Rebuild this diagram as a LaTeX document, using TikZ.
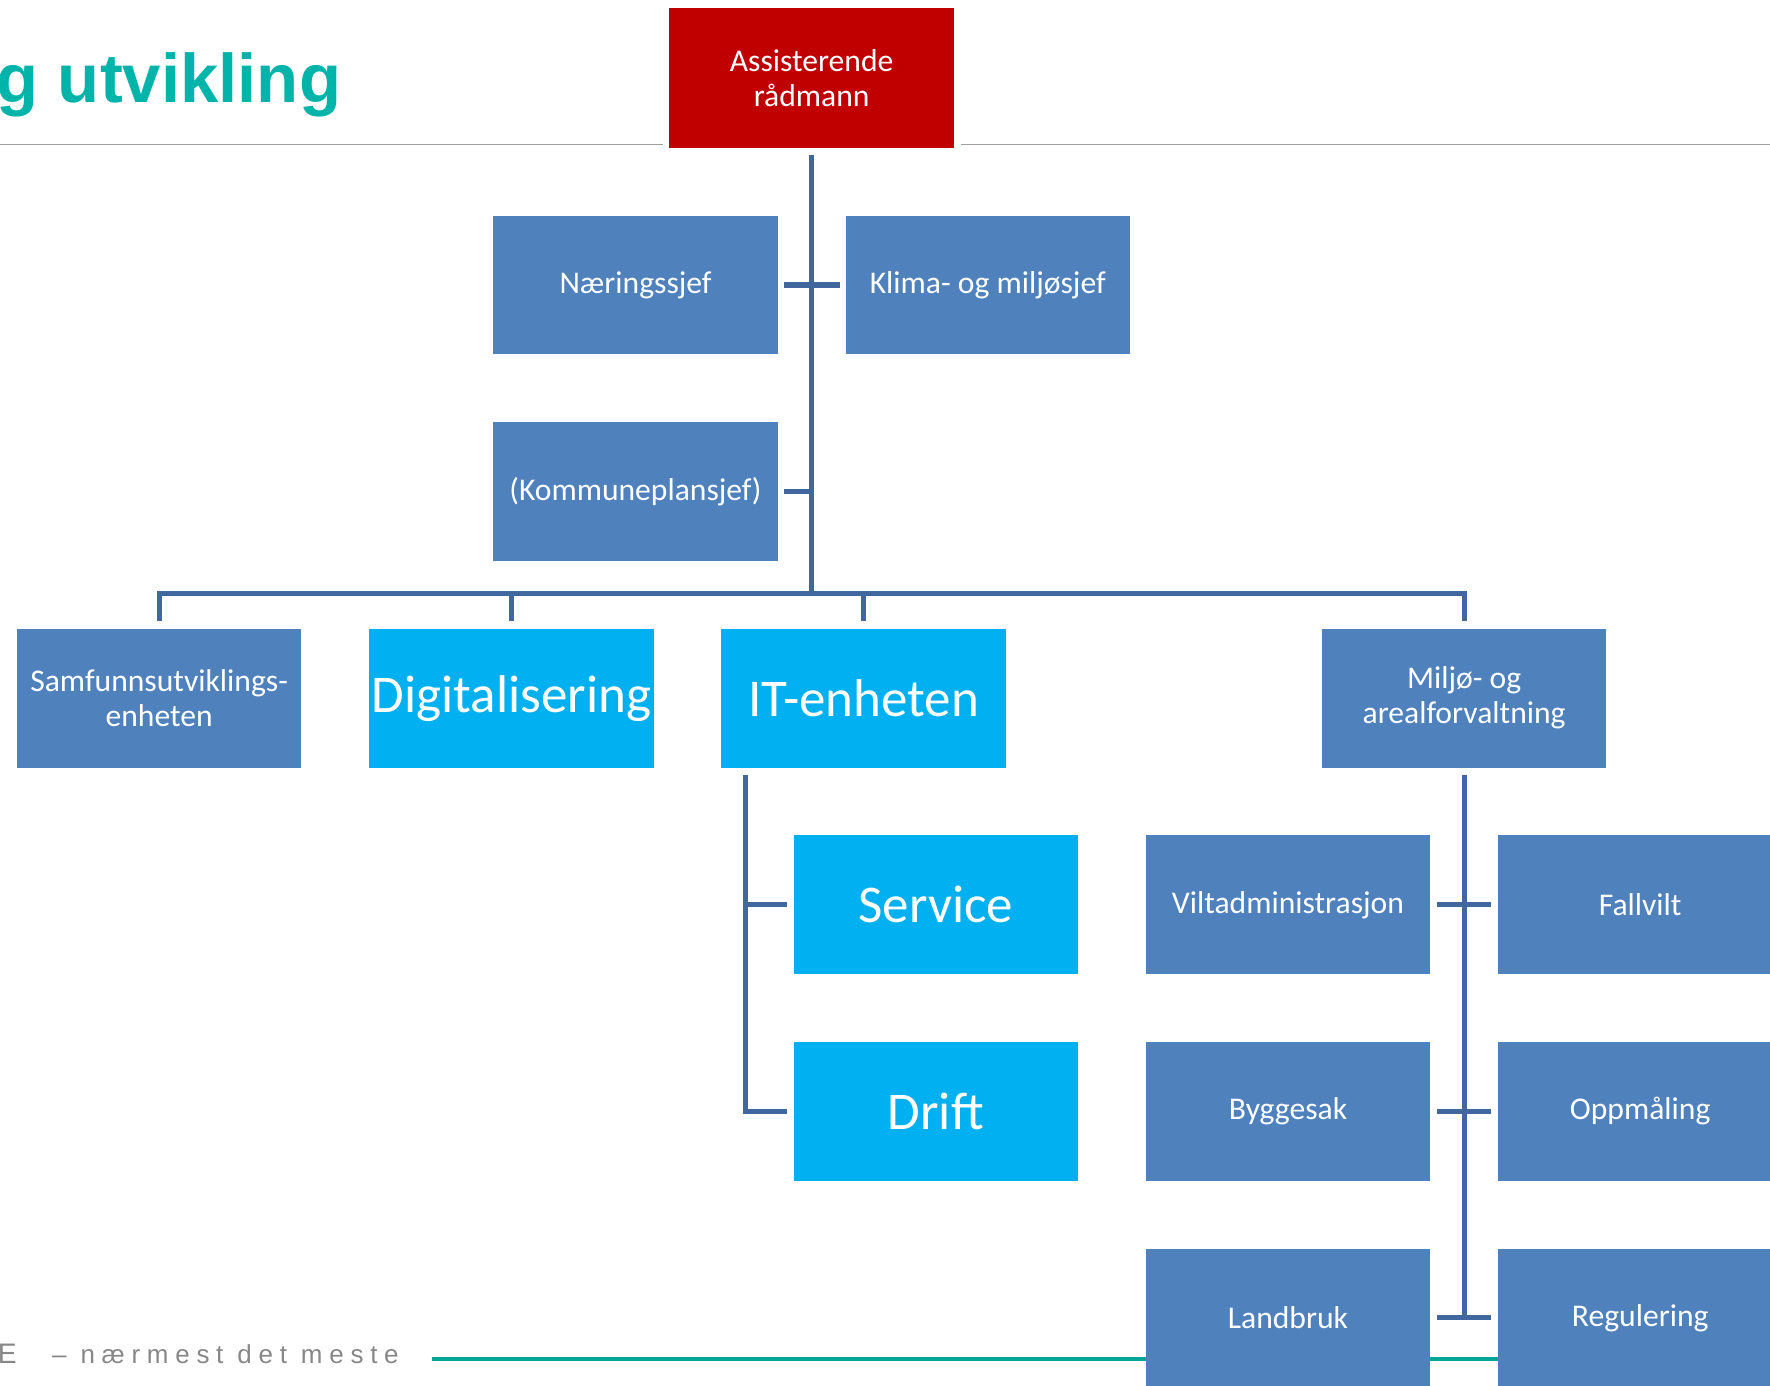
\documentclass[tikz,border=0pt]{standalone}
\usepackage{fontspec}
\setmainfont{Carlito}
\newfontfamily\titlefont{Liberation Sans}
\newfontfamily\footfont[LetterSpace=26]{Liberation Sans}
\definecolor{boxblue}{HTML}{4F81BD}
\definecolor{boxcyan}{HTML}{00B0F0}
\definecolor{boxred}{HTML}{C00000}
\definecolor{connblue}{RGB}{64,104,158}
\definecolor{teal}{RGB}{0,180,170}
\definecolor{footteal}{RGB}{0,165,150}
\definecolor{rulegray}{RGB}{160,160,160}
\definecolor{footgray}{RGB}{135,135,135}
\tikzset{
  orgbox/.style={rectangle, minimum width=252pt, minimum height=123pt, inner sep=0pt,
    text=white, align=center, font=\fontsize{28}{31}\selectfont},
  bluebox/.style={orgbox, fill=boxblue},
  cyanbox/.style={orgbox, fill=boxcyan, font=\fontsize{47}{56}\selectfont},
  redbox/.style={orgbox, fill=boxred, minimum height=124pt},
  conn/.style={draw=connblue, line width=4.5pt},
}
\begin{document}
\begin{tikzpicture}[x=1pt, y=-1pt]
\useasboundingbox (0,0) rectangle (1568,1227);
\clip (0,0) rectangle (1568,1227);
% title and rules
\node[anchor=base west, inner sep=0pt, text=teal, font=\titlefont\bfseries\fontsize{61}{70}\selectfont] (title) at (-3,91) {g utvikling};
\coordinate (rl1) at (0,128);
\coordinate (rl2) at (587,128);
\coordinate (rr1) at (851,128);
\coordinate (rr2) at (1568,128);
\draw[rulegray, line width=1.6pt] (rl1) -- (rl2);
\draw[rulegray, line width=1.6pt] (rr1) -- (rr2);
% footer
\coordinate (fl1) at (383,1204);
\coordinate (fl2) at (1568,1204);
\draw[footteal, line width=3pt] (fl1) -- (fl2);
\node[anchor=base west, inner sep=0pt, text=footgray, font=\footfont\fontsize{25}{30}\selectfont] (footE) at (-2,1208) {E};
\node[anchor=base west, inner sep=0pt, text=footgray, font=\footfont\fontsize{23}{27}\selectfont] (foot) at (46,1208) {– nærmest det meste};
% boxes
\node[redbox] (red) at (719,69) {Assisterende\\rådmann};
\node[bluebox] (naer) at (563,252.5) {Næringssjef};
\node[bluebox] (klima) at (875,252.5) {Klima- og miljøsjef};
\node[bluebox] (komm) at (563,435.5) {(Kommuneplansjef)};
\node[bluebox] (samf) at (141,618.5) {Samfunnsutviklings-\\enheten};
\node[cyanbox] (digi) at (453,618.5) {Digitalisering};
\node[cyanbox] (it) at (765,618.5) {IT-enheten};
\node[bluebox] (milj) at (1297,618.5) {Miljø- og\\arealforvaltning};
\node[cyanbox] (serv) at (829,801.5) {Service};
\node[cyanbox] (drift) at (829,984.5) {Drift};
\node[bluebox] (vilt) at (1141,801.5) {Viltadministrasjon};
\node[bluebox] (fall) at (1453,801.5) {Fallvilt};
\node[bluebox] (bygg) at (1141,984.5) {Byggesak};
\node[bluebox] (oppm) at (1453,984.5) {Oppmåling};
\node[bluebox] (land) at (1141,1167.5) {Landbruk};
\node[bluebox] (reg) at (1453,1167.5) {Regulering};
% connectors
\coordinate (busy) at (719,526);
\draw[conn] ([yshift=-6pt]red.south) -- (red.south |- busy);
\draw[conn] ([xshift=5pt]naer.east) -- ([xshift=-5pt]klima.west);
\draw[conn] ([xshift=5pt]komm.east) -- (red.south |- komm.east);
\draw[conn] ([yshift=7pt]samf.north) -- (samf.north |- busy) -- (milj.north |- busy) -- ([yshift=7pt]milj.north);
\draw[conn] ([yshift=7pt]digi.north) -- (digi.north |- busy);
\draw[conn] ([yshift=7pt]it.north) -- (it.north |- busy);
\coordinate (itv) at ([xshift=22pt,yshift=-6pt]it.south west);
\draw[conn] (itv) |- ([xshift=-6pt]drift.west);
\draw[conn] (itv |- serv.west) -- ([xshift=-6pt]serv.west);
\draw[conn] ([yshift=-6pt]milj.south) -- (milj.south |- land.east);
\draw[conn] ([xshift=6pt]vilt.east) -- ([xshift=-6pt]fall.west);
\draw[conn] ([xshift=6pt]bygg.east) -- ([xshift=-6pt]oppm.west);
\draw[conn] ([xshift=6pt]land.east) -- ([xshift=-6pt]reg.west);
\end{tikzpicture}
\end{document}
